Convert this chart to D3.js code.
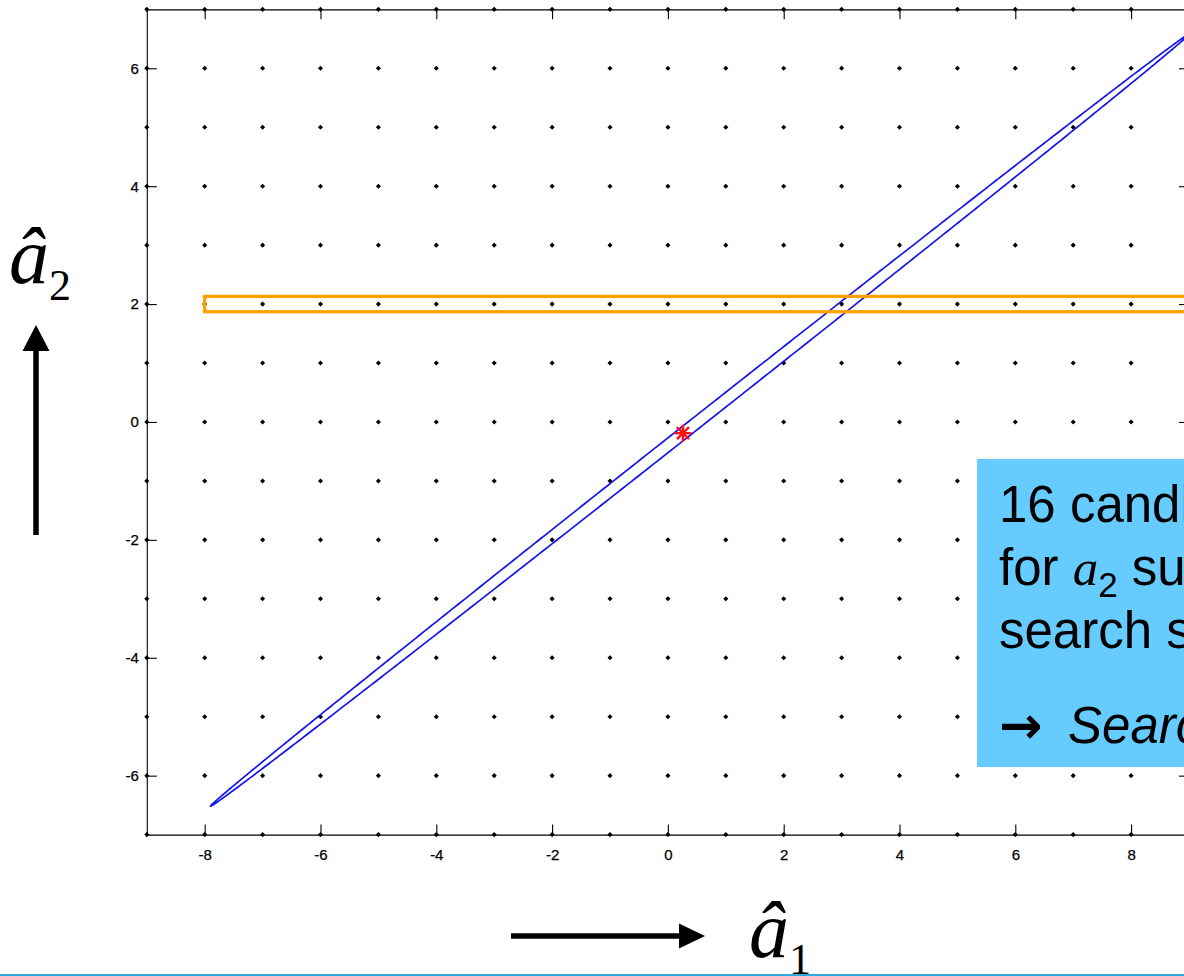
<!DOCTYPE html>
<html>
<head>
<meta charset="utf-8">
<script src="https://cdn.jsdelivr.net/npm/d3@7"></script>
<style>
  html, body { margin: 0; padding: 0; background: #fff; overflow: hidden; }
  svg { display: block; }
</style>
</head>
<body>
<svg id="chart" width="1184" height="976"></svg>
<script>
// Ambiguity plane: integer lattice, float solution, search ellipse, candidate band
const a1Domain = [-9, 9];
const a2Domain = [-7, 7];

const a1TickValues = [-8, -6, -4, -2, 0, 2, 4, 6, 8];
const a1TickLabels = ["-8", "-6", "-4", "-2", "0", "2", "4", "6", "8"];
const a2TickValues = [-6, -4, -2, 0, 2, 4, 6];
const a2TickLabels = ["-6", "-4", "-2", "0", "2", "4", "6"];

// integer grid points (candidate ambiguities)
const latticeA1 = [-9, -8, -7, -6, -5, -4, -3, -2, -1, 0, 1, 2, 3, 4, 5, 6, 7, 8, 9];
const latticeA2 = [-7, -6, -5, -4, -3, -2, -1, 0, 1, 2, 3, 4, 5, 6, 7];

// float solution
const floatSolution = [0.26, -0.19];

// search ellipse: centre, semi-axes, slope of major axis
const ellipseCenter = [0.55, 0.03];
const ellipseSemiAxes = [10.69, 0.1];
const ellipseSlope = 0.775;

// candidate band around a2 = 2
const bandA1 = [-8, 9.3];
const bandA2 = [1.87, 2.13];

// text box lines
const noteLines = ["16 candidates", "for a\u2082 survive", "search step 1"];
const noteConclusion = "Search halting";

const svg = d3.select("#chart");

const x = d3.scaleLinear().domain(a1Domain).range([146.8, 1189]);
const y = d3.scaleLinear().domain(a2Domain).range([834.6, 9.35]);

const defs = svg.append("defs");
defs.append("clipPath").attr("id", "plotClip")
  .append("rect")
  .attr("x", x(a1Domain[0])).attr("y", y(a2Domain[1]))
  .attr("width", x(a1Domain[1]) - x(a1Domain[0]))
  .attr("height", y(a2Domain[0]) - y(a2Domain[1]));

// lattice dots
const pts = [];
latticeA1.forEach(a => latticeA2.forEach(b => pts.push([a, b])));
svg.append("g").selectAll("rect").data(pts).join("rect")
  .attr("x", -1.8).attr("y", -1.8).attr("width", 3.6).attr("height", 3.6)
  .attr("fill", "#000")
  .attr("transform", d => `translate(${x(d[0])},${y(d[1])}) rotate(45)`);

// axes
const fontAxis = "'Liberation Sans', Arial, sans-serif";
const gB = svg.append("g").attr("transform", `translate(0,${y(a2Domain[0])})`)
  .call(d3.axisBottom(x).tickValues(a1TickValues)
    .tickFormat((d, i) => a1TickLabels[i]).tickSizeInner(-10).tickSizeOuter(0).tickPadding(15));
const gT = svg.append("g").attr("transform", `translate(0,${y(a2Domain[1])})`)
  .call(d3.axisTop(x).tickValues(a1TickValues).tickFormat("").tickSizeInner(-10).tickSizeOuter(0));
const gL = svg.append("g").attr("transform", `translate(${x(a1Domain[0])},0)`)
  .call(d3.axisLeft(y).tickValues(a2TickValues)
    .tickFormat((d, i) => a2TickLabels[i]).tickSizeInner(-10).tickSizeOuter(0).tickPadding(8));
const gR = svg.append("g").attr("transform", `translate(${x(a1Domain[1])},0)`)
  .call(d3.axisRight(y).tickValues(a2TickValues).tickFormat("").tickSizeInner(-10).tickSizeOuter(0));
[gB, gT, gL, gR].forEach(g => {
  g.select(".domain").attr("stroke", "#000").attr("stroke-width", 1.1);
  g.selectAll(".tick line").attr("stroke", "#000").attr("stroke-width", 1.1);
  g.selectAll("text").attr("font-family", fontAxis).attr("font-size", 15)
    .attr("fill", "#000").attr("stroke", "#000").attr("stroke-width", 0.25);
});

// search ellipse
const th = Math.atan(ellipseSlope);
const ellPts = d3.range(0, 720).map(i => {
  const t = i / 720 * 2 * Math.PI;
  const u = ellipseSemiAxes[0] * Math.cos(t), v = ellipseSemiAxes[1] * Math.sin(t);
  return [ellipseCenter[0] + u * Math.cos(th) - v * Math.sin(th),
          ellipseCenter[1] + u * Math.sin(th) + v * Math.cos(th)];
});
svg.append("path")
  .attr("clip-path", "url(#plotClip)")
  .attr("d", d3.line().x(d => x(d[0])).y(d => y(d[1])).curve(d3.curveLinearClosed)(ellPts))
  .attr("fill", "none").attr("stroke", "#1414ee").attr("stroke-width", 1.7);

// candidate band
svg.append("rect")
  .attr("x", x(bandA1[0])).attr("y", y(bandA2[1]))
  .attr("width", x(bandA1[1]) - x(bandA1[0]))
  .attr("height", y(bandA2[0]) - y(bandA2[1]))
  .attr("fill", "none").attr("stroke", "#ffa200").attr("stroke-width", 3.3);

// float solution marker
const fx = x(floatSolution[0]), fy = y(floatSolution[1]), r = 8.5;
const star = svg.append("g").attr("transform", `translate(${fx},${fy})`)
  .attr("stroke", "#ff1010").attr("stroke-width", 2.4).attr("stroke-linecap", "butt");
[0, 45, 90, 135].forEach(a => {
  const rad = a * Math.PI / 180;
  star.append("line")
    .attr("x1", -r * Math.cos(rad)).attr("y1", -r * Math.sin(rad))
    .attr("x2", r * Math.cos(rad)).attr("y2", r * Math.sin(rad));
});

// note box
svg.append("rect").attr("x", 977).attr("y", 459).attr("width", 260).attr("height", 308)
  .attr("fill", "#66ccff");
const noteFont = "'Liberation Sans', Arial, sans-serif";
const note = svg.append("g").attr("font-family", noteFont).attr("font-size", 51).attr("fill", "#000");
note.append("text").attr("x", 999).attr("y", 522).text(noteLines[0]);
const l2 = note.append("text").attr("x", 999).attr("y", 585);
l2.append("tspan").text("for ");
l2.append("tspan").attr("font-family", "'Liberation Serif', 'Times New Roman', serif")
  .attr("font-style", "italic").text("a");
l2.append("tspan").attr("font-size", 35).attr("dy", 12).text("2");
l2.append("tspan").attr("dy", -12).text(" survive");
note.append("text").attr("x", 999).attr("y", 648).text(noteLines[2]);
const l4 = note.append("text").attr("x", 999).attr("y", 743);
l4.append("tspan").attr("font-family", "'DejaVu Sans', sans-serif").attr("font-size", 52)
  .attr("font-weight", "bold").text("\u2192");
l4.append("tspan").attr("x", 1068).attr("font-style", "italic").text(noteConclusion);

// axis titles with arrows
const serif = "'Liberation Serif', 'Times New Roman', serif";
const arrowColor = "#000";
// vertical arrow
svg.append("line").attr("x1", 36).attr("x2", 36).attr("y1", 535).attr("y2", 348)
  .attr("stroke", arrowColor).attr("stroke-width", 5.5);
svg.append("path").attr("d", "M36,325 L49.5,351 L22.5,351 Z").attr("fill", arrowColor);
// horizontal arrow
svg.append("line").attr("x1", 511).attr("x2", 682).attr("y1", 936).attr("y2", 936)
  .attr("stroke", arrowColor).attr("stroke-width", 5.5);
svg.append("path").attr("d", "M705,936 L679,923.5 L679,948.5 Z").attr("fill", arrowColor);

const t2 = svg.append("text").attr("x", 9).attr("y", 283).attr("font-family", serif).attr("fill", "#000");
t2.append("tspan").attr("font-size", 80).attr("font-style", "italic").text("\u00e2");
t2.append("tspan").attr("font-size", 44).attr("dy", 17).text("2");

const t1 = svg.append("text").attr("x", 749).attr("y", 957).attr("font-family", serif).attr("fill", "#000");
t1.append("tspan").attr("font-size", 80).attr("font-style", "italic").text("\u00e2");
t1.append("tspan").attr("font-size", 44).attr("dy", 17).text("1");

// bottom rule
svg.append("rect").attr("x", 0).attr("y", 974).attr("width", 1184).attr("height", 2).attr("fill", "#2eaadc");
</script>
</body>
</html>
